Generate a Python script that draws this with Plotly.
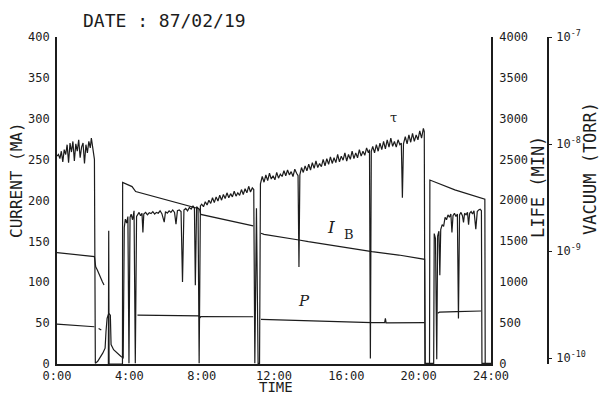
import plotly.graph_objects as go

# ---------------- data ----------------
tau_hours = [
    0.00, 0.08, 0.16, 0.24, 0.32, 0.40, 0.48, 0.56, 0.64, 0.72, 0.80, 0.88, 0.96, 1.04,
    1.12, 1.20, 1.28, 1.36, 1.44, 1.52, 1.60, 1.68, 1.76, 1.84, 1.90, 1.97, 2.03, 2.07, 2.12,
    2.20, 2.25, 2.53, 2.66, 2.71, 2.77, 2.86, 2.95, 2.99, 3.13, 3.54, 3.66, 3.72,
    3.78, 3.85, 3.92, 3.98, 4.04, 4.10, 4.18, 4.26, 4.33, 4.40, 4.46, 4.54, 4.62, 4.70,
    4.75, 4.80, 4.90, 5.00, 5.10, 5.20, 5.30, 5.40, 5.50, 5.60, 5.70, 5.80, 5.93, 6.00,
    6.10, 6.20, 6.30, 6.40, 6.50, 6.58, 6.66, 6.76, 6.86, 6.94, 7.02, 7.12, 7.22, 7.32,
    7.42, 7.52, 7.60, 7.65, 7.72, 7.80, 7.86, 7.93,
    8.00, 8.10, 8.20, 8.30, 8.40, 8.50, 8.60, 8.70, 8.80, 8.90, 9.00, 9.10, 9.20, 9.30,
    9.40, 9.50, 9.60, 9.70, 9.80, 9.90, 10.00, 10.10, 10.20, 10.30, 10.40, 10.50, 10.60,
    10.70, 10.80, 10.88, 10.94, 11.03, 11.12, 11.20,
    11.25, 11.35, 11.45, 11.55, 11.65, 11.75, 11.85, 11.95, 12.05, 12.15, 12.25, 12.35,
    12.45, 12.55, 12.65, 12.75, 12.85, 12.95, 13.05, 13.15, 13.25, 13.33, 13.38, 13.43,
    13.52, 13.62, 13.72, 13.82, 13.92, 14.02, 14.12, 14.22, 14.32, 14.42, 14.52, 14.62,
    14.72, 14.82, 14.92, 15.02, 15.12, 15.22, 15.32, 15.42, 15.52, 15.62, 15.72, 15.82,
    15.92, 16.02, 16.12, 16.22, 16.32, 16.42, 16.52, 16.62, 16.72, 16.82, 16.92, 17.02,
    17.12, 17.22, 17.28, 17.33, 17.38, 17.46, 17.56, 17.66, 17.76, 17.86, 17.96, 18.06,
    18.16, 18.26, 18.36, 18.46, 18.56, 18.66, 18.76, 18.86, 18.96, 19.04, 19.10, 19.16,
    19.26, 19.36, 19.46, 19.56, 19.66, 19.76, 19.86, 19.96, 20.06, 20.16, 20.26, 20.31,
    20.35, 20.83,
    20.86, 20.93, 21.00, 21.05, 21.12, 21.17, 21.22, 21.30, 21.38, 21.46, 21.54, 21.62,
    21.70, 21.78, 21.84, 21.90, 21.98, 22.06, 22.14, 22.20, 22.26, 22.34, 22.42, 22.48,
    22.54, 22.62, 22.70, 22.76, 22.82, 22.90, 22.98, 23.06, 23.16, 23.24, 23.32, 23.40,
    23.47, 23.50, 24.00,
]
tau_minutes = [
    2540, 2560, 2510, 2600, 2470, 2620, 2560, 2680, 2460, 2700, 2590, 2720, 2480, 2690,
    2600, 2740, 2520, 2650, 2700, 2450, 2680, 2580, 2720, 2640, 2760, 2640, 2580, 2500, 0,
    20, 25, 125, 186, 390, 550, 612, 590, 230, 167, 85, 70, 1666,
    1767, 1720, 1800, 0, 1790, 1828, 1760, 1869, 0, 1800, 1828, 1850, 1810, 1840,
    1605, 1830, 1850, 1820, 1845, 1835, 1860, 1830, 1850, 1840, 1870, 1835, 1730, 1860,
    1840, 1870, 1850, 1880, 1850, 1706, 1870, 1880, 1860, 997, 1880, 1900, 1870, 1910,
    1890, 1930, 1900, 957, 1920, 1900, 0, 1930,
    1950, 1920, 1980, 1940, 2000, 1960, 2030, 1970, 2040, 1990, 2060, 2000, 2070, 2020,
    2090, 2030, 2080, 2040, 2110, 2050, 2090, 2060, 2130, 2070, 2140, 2090, 2170,
    2100, 2150, 2130, 0, 1900, 0, 0,
    2200, 2290, 2220, 2310, 2240, 2330, 2260, 2300, 2250, 2340, 2270, 2320,
    2290, 2360, 2300, 2370, 2310, 2350, 2290, 2380, 2330, 2300, 1180, 2310,
    2400, 2340, 2420, 2360, 2440, 2370, 2460, 2390, 2480, 2400, 2450, 2410,
    2500, 2420, 2510, 2440, 2530, 2450, 2520, 2460, 2560, 2470, 2540, 2490,
    2580, 2480, 2560, 2500, 2600, 2510, 2580, 2520, 2620, 2540, 2600, 2550,
    2640, 2580, 2620, 60, 2600, 2660, 2580, 2680, 2600, 2700, 2620, 2720,
    2630, 2740, 2650, 2760, 2660, 2720, 2650, 2740, 2680, 2700, 2030, 2690,
    2780, 2690, 2800, 2710, 2820, 2720, 2800, 2740, 2850, 2760, 2880, 2840,
    0, 0,
    1590, 1530, 50, 1560, 1620, 1080, 1640, 1700, 1680, 1790, 1760, 1820,
    1790, 1830, 1605, 1810, 1840, 1800, 1830, 551, 1820, 1850, 1810, 1727,
    1840, 1820, 1850, 1700, 1840, 1860, 1830, 1870, 1645, 1860, 1880, 1890,
    1870, 0, 0,
]

ib_hours = [0.00, 2.07, 2.10, 2.14, 2.23, 2.33, 2.51, 2.60, None,
            2.84, 2.86, 2.88, 3.62, 3.63, 4.15, 4.35, 7.85, 7.90, 7.95, 10.85, None,
            11.28, 11.45, 13.38, 13.90, 17.42, 18.90, 20.33, 20.36, 20.60, 20.62,
            22.00, 23.50, 23.66, 23.68, 24.00]
ib_ma = [136.3, 131.4, 126, 119, 115, 109, 100.7, 96.6, None,
         0, 163, 0, 0, 222, 217, 211, 190, 188, 183, 169, None,
         160, 158.6, 151.7, 149.6, 137.4, 133.3, 128, 0, 0, 225,
         213, 202.7, 201.5, 0, 0]

p_hours = [0.00, 2.07, None, 2.30, 2.45, None, 4.45, 7.86, 7.90, 7.95, 10.85, None,
           11.28, 13.90, 17.42, 18.12, 18.16, 18.20, 18.90, 20.33, None,
           21.05, 21.15, 22.10, 23.45]
p_torr = [2.07e-10, 1.96e-10, None, 1.89e-10, 1.83e-10, None, 2.52e-10, 2.48e-10,
          2.37e-10, 2.44e-10, 2.43e-10, None,
          2.30e-10, 2.22e-10, 2.14e-10, 2.14e-10, 2.35e-10, 2.13e-10, 2.14e-10, 2.14e-10,
          None, 2.62e-10, 2.68e-10, 2.71e-10, 2.75e-10]

time_ticks = [0, 4, 8, 12, 16, 20, 24]
time_labels = ["0:00", "4:00", "8:00", "12:00", "16:00", "20:00", "24:00"]
current_ticks = [0, 50, 100, 150, 200, 250, 300, 350, 400]
life_ticks = [0, 500, 1000, 1500, 2000, 2500, 3000, 3500, 4000]
vacuum_ticks = [1e-10, 1e-9, 1e-8, 1e-7]
vacuum_labels = ["10<sup>-10</sup>", "10<sup>-9</sup>", "10<sup>-8</sup>", "10<sup>-7</sup>"]

# ---------------- layout geometry ----------------
W, H = 602, 394
L, R, T, B = 57, 40, 37, 30
PW = W - L - R
PH = H - T - B
X_END = (491 - L) / PW
VAC_POS = (548 - L) / PW

def px(xp):
    return (xp - L) / PW

def py(yp):
    return (H - B - yp) / PH

INK = "#1c1c1c"
MONO = "DejaVu Sans Mono"
SERIF = "DejaVu Serif"

fig = go.Figure()
fig.add_trace(go.Scatter(x=ib_hours, y=ib_ma, mode="lines", yaxis="y",
                         line=dict(color=INK, width=1.2), connectgaps=False,
                         showlegend=False, hoverinfo="skip"))
fig.add_trace(go.Scatter(x=tau_hours, y=tau_minutes, mode="lines", yaxis="y2",
                         line=dict(color=INK, width=1.2), connectgaps=False,
                         showlegend=False, hoverinfo="skip"))
fig.add_trace(go.Scatter(x=p_hours, y=p_torr, mode="lines", yaxis="y3",
                         line=dict(color=INK, width=1.2), connectgaps=False,
                         showlegend=False, hoverinfo="skip"))

axis_common = dict(showgrid=False, zeroline=False, showline=True,
                   linecolor=INK, linewidth=1.6)

fig.update_layout(
    width=W, height=H,
    margin=dict(l=L, r=R, t=T, b=B, pad=0),
    paper_bgcolor="white", plot_bgcolor="white",
    xaxis=dict(domain=[0, X_END], range=[0, 24], tickvals=time_ticks,
               ticktext=time_labels, ticks="", ticklabelstandoff=0,
               tickfont=dict(family=MONO, size=12, color=INK), **axis_common),
    yaxis=dict(range=[0, 400], tickvals=current_ticks, ticks="",
               ticklabelstandoff=3,
               tickfont=dict(family=MONO, size=12, color=INK), **axis_common),
    yaxis2=dict(range=[-8, 4000], tickvals=life_ticks, overlaying="y",
                side="right", anchor="x", ticks="", ticklabelstandoff=4,
                tickfont=dict(family=MONO, size=12, color=INK), **axis_common),
    yaxis3=dict(type="log", range=[-10.056, -7], tickvals=vacuum_ticks,
                ticktext=vacuum_labels, overlaying="y", side="right",
                anchor="free", position=VAC_POS, ticks="outside", ticklen=3,
                tickcolor=INK, ticklabelstandoff=2,
                tickfont=dict(family=MONO, size=12, color=INK), **axis_common),
)

ann = [
    dict(text="DATE : 87/02/19", x=px(164), y=py(20), font=dict(family=MONO, size=18, color=INK)),
    dict(text="CURRENT (MA)", x=px(16), y=py(180), textangle=-90,
         font=dict(family=MONO, size=16, color=INK)),
    dict(text="LIFE (MIN)", x=px(538), y=py(187), textangle=-90,
         font=dict(family=MONO, size=17, color=INK)),
    dict(text="VACUUM (TORR)", x=px(590), y=py(169), textangle=-90,
         font=dict(family=MONO, size=17, color=INK)),
    dict(text="TIME", x=px(276), y=py(387), font=dict(family=MONO, size=14, color=INK),
         yanchor="middle"),
    dict(text="τ", x=px(393), y=py(118), font=dict(family=SERIF, size=13, color=INK)),
    dict(text="<i>I</i>", x=px(331), y=py(227), font=dict(family=SERIF, size=17, color=INK)),
    dict(text="B", x=px(349), y=py(234), font=dict(family=SERIF, size=13, color=INK)),
    dict(text="<i>P</i>", x=px(304), y=py(301), font=dict(family=SERIF, size=15, color=INK)),
]
for a in ann:
    a.update(xref="paper", yref="paper", showarrow=False, xanchor="center", yanchor="middle")
fig.update_layout(annotations=ann)

fig.write_html("out.html")
